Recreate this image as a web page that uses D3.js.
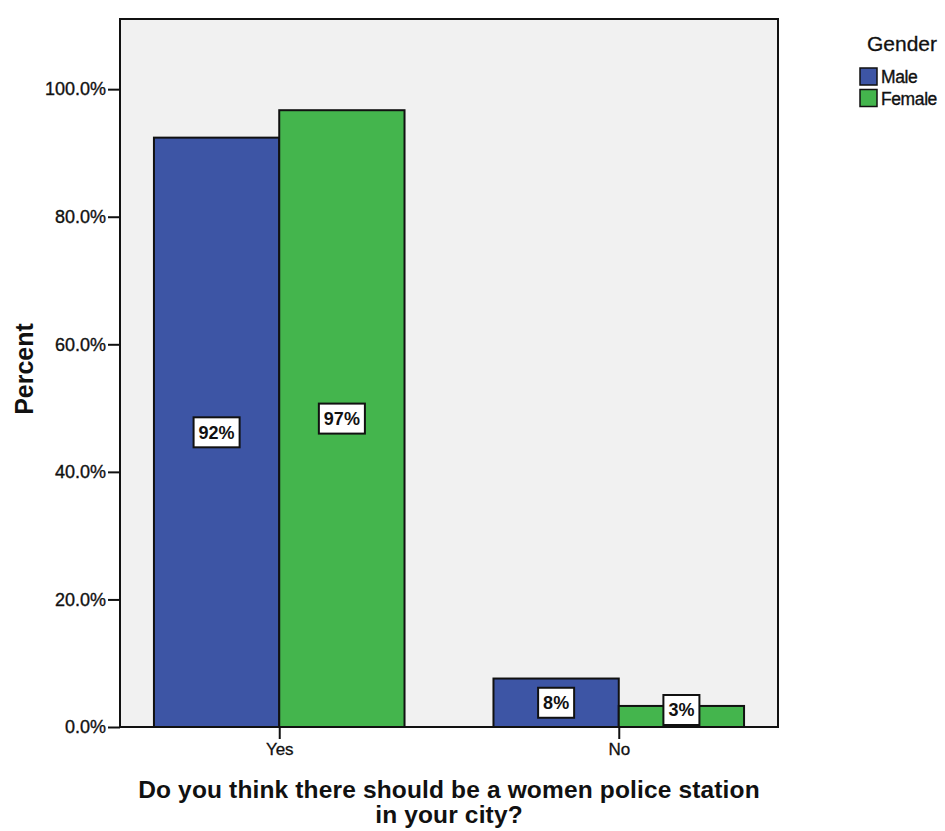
<!DOCTYPE html>
<html>
<head>
<meta charset="utf-8">
<script src="https://cdn.jsdelivr.net/npm/d3@7"></script>
<style>
  html, body { margin: 0; padding: 0; background: #ffffff; }
  svg { display: block; font-family: "Liberation Sans", Arial, Helvetica, sans-serif; }
</style>
</head>
<body>
<svg id="chart" width="945" height="831"></svg>
<script>
// ---- data ----
const categories = ["Yes", "No"];
const genders = ["Male", "Female"];
const maleValues = [92.4, 7.6];
const femaleValues = [96.7, 3.3];
const yTicks = [0, 20, 40, 60, 80, 100];
const xTitleLines = ["Do you think there should be a women police station", "in your city?"];
const yTitle = "Percent";
const legendTitle = "Gender";

// ---- layout ----
const W = 945, H = 831;
const plot = { left: 120, right: 778, top: 19, bottom: 727 };
const colors = { Male: "#3d55a5", Female: "#44b54d" };

const svg = d3.select("#chart");

const y = d3.scaleLinear().domain([0, 111]).range([plot.bottom, plot.top]);
const x = d3.scalePoint().domain(categories).range([plot.left, plot.right]).padding(0.469);
const groupWidth = x.step() * 0.738;
const xInner = d3.scaleBand().domain(genders).range([-groupWidth / 2, groupWidth / 2]).padding(0);

// plot background
svg.append("rect")
  .attr("x", plot.left).attr("y", plot.top)
  .attr("width", plot.right - plot.left).attr("height", plot.bottom - plot.top)
  .attr("fill", "#f1f1f1");

// bars
const rows = [];
categories.forEach((c, i) => {
  rows.push({ cat: c, g: "Male", v: maleValues[i] });
  rows.push({ cat: c, g: "Female", v: femaleValues[i] });
});

svg.append("g").selectAll("rect").data(rows).join("rect")
  .attr("x", d => x(d.cat) + xInner(d.g))
  .attr("y", d => y(d.v))
  .attr("width", xInner.bandwidth())
  .attr("height", d => y(0) - y(d.v))
  .attr("fill", d => colors[d.g])
  .attr("stroke", "#111")
  .attr("stroke-width", 2);

// plot frame
svg.append("rect")
  .attr("x", plot.left).attr("y", plot.top)
  .attr("width", plot.right - plot.left).attr("height", plot.bottom - plot.top)
  .attr("fill", "none").attr("stroke", "#111").attr("stroke-width", 2);

// y axis
const yAxis = d3.axisLeft(y).tickValues(yTicks).tickSize(12).tickPadding(2)
  .tickFormat(d => d3.format(".1f")(d) + "%");
const yg = svg.append("g").attr("transform", `translate(${plot.left},0)`).call(yAxis);
yg.select(".domain").remove();
yg.selectAll(".tick line").attr("stroke", "#111").attr("stroke-width", 2);
yg.selectAll(".tick text").attr("font-size", 18).attr("fill", "#111")
  .attr("stroke", "#111").attr("stroke-width", 0.35)
  .attr("font-family", "'Liberation Sans', Arial, sans-serif");

// x axis
const xAxis = d3.axisBottom(x).tickSize(12).tickPadding(4);
const xg = svg.append("g").attr("transform", `translate(0,${plot.bottom})`).call(xAxis);
xg.select(".domain").remove();
xg.selectAll(".tick line").attr("stroke", "#111").attr("stroke-width", 2);
xg.selectAll(".tick text").attr("font-size", 17).attr("fill", "#111")
  .attr("stroke", "#111").attr("stroke-width", 0.3)
  .attr("font-family", "'Liberation Sans', Arial, sans-serif");

// data labels
const labelH = 30;
const labels = svg.append("g").selectAll("g").data(rows).join("g")
  .attr("transform", d => {
    const cx = x(d.cat) + xInner(d.g) + xInner.bandwidth() / 2;
    let cy = (y(d.v) + y(0)) / 2;
    cy = Math.min(cy, plot.bottom - labelH / 2 - 2);
    return `translate(${cx},${cy})`;
  });
labels.each(function(d) {
  const g = d3.select(this);
  const t = g.append("text")
    .attr("text-anchor", "middle").attr("dy", "0.36em")
    .attr("font-size", 18).attr("font-weight", "bold").attr("fill", "#111")
    .text(Math.round(d.v) + "%");
  const w = t.node().getComputedTextLength() + 10;
  g.insert("rect", "text")
    .attr("x", -w / 2).attr("y", -labelH / 2)
    .attr("width", w).attr("height", labelH)
    .attr("fill", "#fff").attr("stroke", "#111").attr("stroke-width", 2);
});

// axis titles
const cxPlot = (plot.left + plot.right) / 2;
svg.append("text")
  .attr("x", cxPlot).attr("y", 798)
  .attr("text-anchor", "middle").attr("font-size", 24.5).attr("font-weight", "bold").attr("fill", "#111")
  .attr("letter-spacing", 0.15)
  .selectAll("tspan").data(xTitleLines).join("tspan")
  .attr("x", cxPlot).attr("dy", (d, i) => i === 0 ? 0 : 25)
  .text(d => d);

svg.append("text")
  .attr("transform", `translate(33,${(plot.top + plot.bottom) / 2 - 4}) rotate(-90)`)
  .attr("text-anchor", "middle").attr("font-size", 25).attr("font-weight", "bold").attr("fill", "#111")
  .text(yTitle);

// legend
const lg = svg.append("g");
lg.append("text").attr("x", 902).attr("y", 51).attr("text-anchor", "middle")
  .attr("font-size", 21).attr("fill", "#111").attr("stroke", "#111").attr("stroke-width", 0.3)
  .text(legendTitle);
const li = lg.selectAll("g.item").data(genders).join("g").attr("class", "item")
  .attr("transform", (d, i) => `translate(860,${68 + i * 21.5})`);
li.append("rect").attr("width", 17).attr("height", 17)
  .attr("fill", d => colors[d]).attr("stroke", "#111").attr("stroke-width", 1.5);
li.append("text").attr("x", 21).attr("y", 15)
  .attr("font-size", 17.5).attr("letter-spacing", -0.4).attr("fill", "#111")
  .attr("stroke", "#111").attr("stroke-width", 0.35).text(d => d);
</script>
</body>
</html>
